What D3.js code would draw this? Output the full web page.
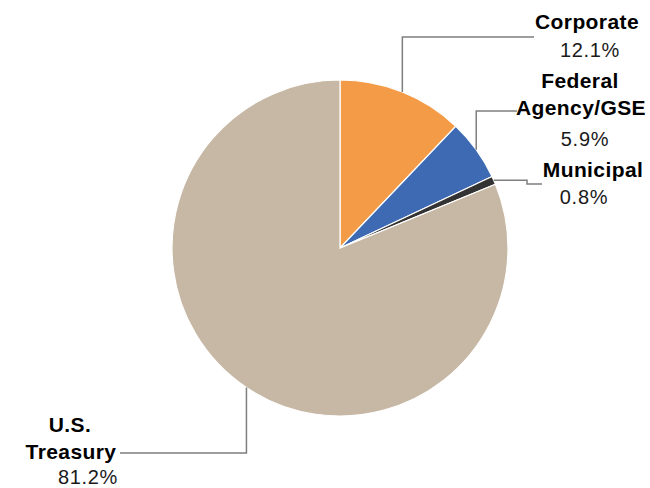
<!DOCTYPE html>
<html><head><meta charset="utf-8">
<script src="https://cdn.jsdelivr.net/npm/d3@7"></script>
<style>body{margin:0;background:#fff}svg{display:block}text{font-family:"Liberation Sans",Arial,sans-serif}</style>
</head><body>
<svg id="c" width="650" height="488"></svg>
<script>
const categories = ["Corporate", "Federal Agency/GSE", "Municipal", "U.S. Treasury"];
const values = [12.1, 5.9, 0.8, 81.2];
const valueLabels = ["12.1%", "5.9%", "0.8%", "81.2%"];
const nameLines = [["Corporate"], ["Federal", "Agency/GSE"], ["Municipal"], ["U.S.", "Treasury"]];
const colors = ["#F39B47", "#3D6AB3", "#333333", "#C7B8A5"];

// layout (not data)
const cx = 340, cy = 248, R = 168;
const labelLayout = [
  {lines: [[587, 29], [590, 57]], leader: (p) => [[p[0], p[1]], [p[0], 37], [534, 37]]},
  {lines: [[580, 88], [581, 115], [585, 146]], leader: (p) => [[p[0], p[1]], [p[0], 111], [517, 111]]},
  {lines: [[593, 177], [584, 204]], leader: (p) => [[p[0], p[1]], [527, p[1]], [527, 184], [542, 184]]},
  {lines: [[70, 432], [71, 459], [88, 484]], leader: (p) => [[p[0], p[1]], [p[0], 453], [120, 453]]}
];

const svg = d3.select("#c");
const g = svg.append("g").attr("transform", `translate(${cx},${cy})`);
const pie = d3.pie().sort(null).value(d => d)(values);
const arc = d3.arc().innerRadius(0).outerRadius(R);

g.selectAll("path.slice").data(pie).join("path")
  .attr("class", "slice")
  .attr("d", arc)
  .attr("fill", (d, i) => colors[i])
  .attr("stroke", "#fff").attr("stroke-width", 1.2);

const line = d3.line();
pie.forEach((d, i) => {
  const a = (d.startAngle + d.endAngle) / 2;
  const p = [cx + R * Math.sin(a), cy - R * Math.cos(a)];
  svg.append("path").attr("d", line(labelLayout[i].leader(p)))
    .attr("fill", "none").attr("stroke", "#7F7F7F").attr("stroke-width", 1.5);
  const lines = nameLines[i].map(t => ({t, bold: true})).concat([{t: valueLabels[i], bold: false}]);
  lines.forEach((l, j) => {
    const pos = labelLayout[i].lines[j];
    svg.append("text").attr("x", pos[0]).attr("y", pos[1])
      .attr("text-anchor", "middle")
      .attr("font-size", l.bold ? 21 : 20).attr("letter-spacing", l.bold ? 0.4 : 0.7)
      .attr("font-weight", l.bold ? "bold" : "normal")
      .attr("fill", l.bold ? "#000" : "#1a1a1a")
      .text(l.t);
  });
});
</script>
</body></html>
